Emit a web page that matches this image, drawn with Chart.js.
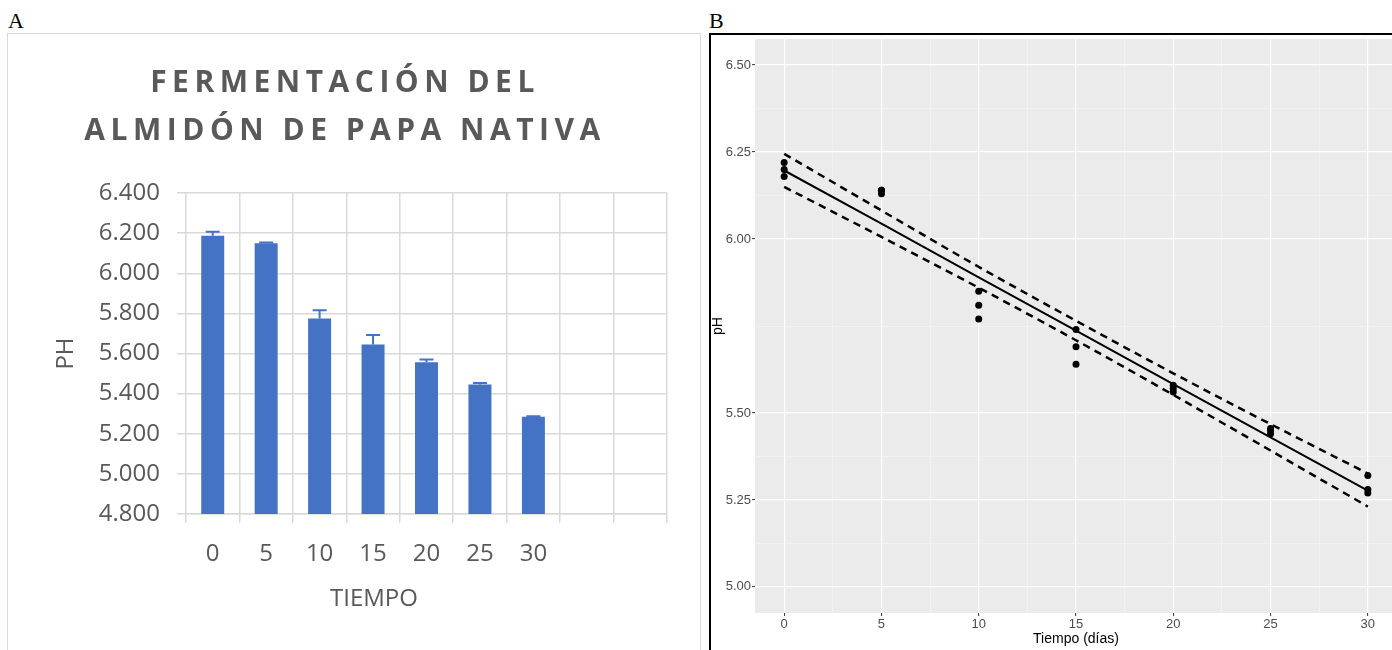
<!DOCTYPE html>
<html>
<head>
<meta charset="utf-8">
<script src="https://cdn.jsdelivr.net/npm/chart.js"></script>
<style>
  body { margin: 0; background: #fff; overflow: hidden; width: 1392px; height: 650px; position: relative; }
  .lab { position: absolute; font-family: "Liberation Serif", serif; font-size: 22px; line-height: 1; color: #000; }
  #labA { left: 8px; top: 10px; }
  #labB { left: 709px; top: 10px; }
  #panelA { position: absolute; left: 7px; top: 33px; width: 692px; height: 640px; border: 1px solid #d9d9d9; }
  #panelB { position: absolute; left: 709px; top: 33px; width: 700px; height: 640px; border: 2px solid #000; }
  canvas { position: absolute; left: 0; top: 0; }
</style>
</head>
<body>
  <div id="labA" class="lab">A</div>
  <div id="panelA"><canvas id="chartA" width="692" height="616"></canvas></div>
  <div id="labB" class="lab">B</div>
  <div id="panelB"><canvas id="chartB" width="700" height="615"></canvas></div>

  <script>
    // Panel A: barras (media +/- error)
    const diasA = ['0', '5', '10', '15', '20', '25', '30', '', ''];
    const phMedio = [6.187, 6.150, 5.775, 5.645, 5.557, 5.445, 5.285];
    const phError = [0.020, 0.003, 0.040, 0.047, 0.013, 0.008, 0.002];
    const tituloA = ['FERMENTACIÓN DEL', 'ALMIDÓN DE PAPA NATIVA'];
    const ejeXA = 'TIEMPO';

    // Panel B: observaciones + recta de ajuste y banda
    const diasObs = [0, 0, 0, 5, 5, 5, 10, 10, 10, 15, 15, 15, 20, 20, 20, 25, 25, 25, 30, 30, 30];
    const phObs = [6.22, 6.20, 6.18, 6.14, 6.14, 6.13, 5.85, 5.81, 5.77, 5.74, 5.69, 5.64,
                   5.58, 5.57, 5.56, 5.455, 5.45, 5.44, 5.32, 5.28, 5.27];
    const diasAjuste = [0, 5, 10, 15, 20, 25, 30];
    const phAjuste = [6.197, 6.044, 5.890, 5.737, 5.583, 5.430, 5.277];
    const phSup = [6.245, 6.082, 5.920, 5.765, 5.614, 5.468, 5.326];
    const phInf = [6.150, 6.006, 5.860, 5.709, 5.552, 5.392, 5.231];
    const yMayoresB = [5.00, 5.25, 5.50, 6.00, 6.25, 6.50];
    const yMenoresB = [5.125, 5.375, 5.75, 6.125, 6.375];
    const xMayoresB = [0, 5, 10, 15, 20, 25, 30];
    const xMenoresB = [2.5, 7.5, 12.5, 17.5, 22.5, 27.5];

    const grisExcel = '#595959';
    const fuenteA = { family: 'Open Sans', size: 24 };

    const barrasError = {
      id: 'barrasError',
      afterDatasetsDraw(chart) {
        const ctx = chart.ctx;
        const y = chart.scales.y;
        const meta = chart.getDatasetMeta(0);
        ctx.save();
        ctx.strokeStyle = '#4472C4';
        ctx.lineWidth = 2;
        meta.data.forEach((bar, i) => {
          const top = y.getPixelForValue(phMedio[i] + phError[i]);
          ctx.beginPath();
          ctx.moveTo(bar.x, bar.y);
          ctx.lineTo(bar.x, top);
          ctx.moveTo(bar.x - 7, top);
          ctx.lineTo(bar.x + 7, top);
          ctx.stroke();
        });
        ctx.restore();
      }
    };

    // titulo con espaciado y titulo del eje X (Excel lo centra bajo las categorias con datos)
    const textosA = {
      id: 'textosA',
      afterDraw(chart) {
        const ctx = chart.ctx;
        ctx.save();
        ctx.fillStyle = grisExcel;
        ctx.textAlign = 'center';
        ctx.font = 'bold 30px "Open Sans"';
        ctx.textBaseline = 'alphabetic';
        ctx.letterSpacing = '5.5px';
        tituloA.forEach((t, i) => ctx.fillText(t, 337, 58 + i * 48));
        ctx.letterSpacing = '0px';
        ctx.font = '24px "Open Sans"';
        ctx.textBaseline = 'middle';
        ctx.fillText(ejeXA, 366, 565);
        ctx.restore();
      }
    };

    new Chart(document.getElementById('chartA'), {
      type: 'bar',
      data: {
        labels: diasA,
        datasets: [{
          data: phMedio,
          backgroundColor: '#4472C4',
          categoryPercentage: 1,
          barPercentage: 0.43
        }]
      },
      options: {
        responsive: false,
        animation: false,
        layout: { padding: { top: 159, right: 33, left: 0, bottom: 0 } },
        plugins: { legend: { display: false }, tooltip: { enabled: false } },
        scales: {
          x: {
            grid: { color: '#d9d9d9', lineWidth: 1.5, tickLength: 9, offset: true },
            border: { color: '#d9d9d9', width: 1.5 },
            ticks: { color: grisExcel, font: fuenteA, padding: 17, maxRotation: 0, autoSkip: false },
            afterFit(s) { s.height = 136; s.paddingLeft = 0; s.paddingRight = 0; }
          },
          y: {
            min: 4.8,
            max: 6.4,
            ticks: { stepSize: 0.2, callback: v => v.toFixed(3), color: grisExcel, font: fuenteA, padding: 17 },
            grid: { color: '#d9d9d9', lineWidth: 1.5, tickLength: 9 },
            border: { display: false },
            title: { display: true, text: 'PH', color: grisExcel, font: fuenteA, padding: { top: 44, bottom: 0 } },
            afterFit(s) { s.width = 178; s.paddingTop = 0; s.paddingBottom = 0; }
          }
        }
      },
      plugins: [barrasError, textosA]
    });

    // ---- Panel B (estilo ggplot) ----
    const esMayorY = v => yMayoresB.some(m => Math.abs(m - v) < 1e-6);
    const esMayorX = v => xMayoresB.some(m => Math.abs(m - v) < 1e-6);
    const fuenteB = { family: 'Liberation Sans', size: 13 };
    const ordenar = (a, b) => a.concat(b).sort((p, q) => p - q).map(v => ({ value: v }));

    const fondoPanel = {
      id: 'fondoPanel',
      beforeDraw(chart) {
        const a = chart.chartArea;
        chart.ctx.save();
        chart.ctx.fillStyle = '#EBEBEB';
        chart.ctx.fillRect(a.left, a.top, a.right - a.left, a.bottom - a.top);
        chart.ctx.restore();
      }
    };

    const puntos = (xs, ys) => xs.map((x, i) => ({ x: x, y: ys[i] }));

    new Chart(document.getElementById('chartB'), {
      type: 'scatter',
      data: {
        datasets: [
          { data: puntos(diasObs, phObs), backgroundColor: '#000', pointRadius: 3.5, borderWidth: 0 },
          { type: 'line', data: puntos(diasAjuste, phAjuste), borderColor: '#000', borderWidth: 2,
            pointRadius: 0, showLine: true, fill: false },
          { type: 'line', data: puntos(diasAjuste, phSup), borderColor: '#000', borderWidth: 2.5,
            borderDash: [7.5, 5.5], pointRadius: 0, showLine: true, fill: false, cubicInterpolationMode: 'monotone' },
          { type: 'line', data: puntos(diasAjuste, phInf), borderColor: '#000', borderWidth: 2.5,
            borderDash: [7.5, 5.5], pointRadius: 0, showLine: true, fill: false, cubicInterpolationMode: 'monotone' }
        ]
      },
      options: {
        responsive: false,
        animation: false,
        layout: { padding: { top: 3, right: 14, left: 0, bottom: 0 } },
        plugins: { legend: { display: false }, tooltip: { enabled: false } },
        scales: {
          x: {
            type: 'linear',
            min: -1.5,
            max: 31.5,
            afterBuildTicks(s) { s.ticks = ordenar(xMayoresB, xMenoresB); },
            ticks: {
              autoSkip: false, maxRotation: 0, padding: 1,
              color: '#4D4D4D', font: fuenteB,
              callback: v => esMayorX(v) ? String(v) : ''
            },
            grid: {
              color: c => esMayorX(c.tick.value) ? '#ffffff' : '#f6f6f6',
              lineWidth: c => esMayorX(c.tick.value) ? 1.2 : 0.6,
              tickLength: 3,
              tickColor: c => esMayorX(c.tick.value) ? '#333333' : 'rgba(0,0,0,0)',
              tickWidth: 1
            },
            border: { display: false },
            title: { display: true, text: 'Tiempo (días)', color: '#000',
                     font: { family: 'Liberation Sans', size: 14 }, padding: { top: 0, bottom: 2 } },
            afterFit(s) { s.height = 37; s.paddingLeft = 0; s.paddingRight = 0; }
          },
          y: {
            min: 4.925,
            max: 6.575,
            afterBuildTicks(s) { s.ticks = ordenar(yMayoresB, yMenoresB); },
            ticks: {
              autoSkip: false, padding: 1,
              color: '#4D4D4D', font: fuenteB,
              callback: v => esMayorY(v) ? v.toFixed(2) : ''
            },
            grid: {
              color: c => esMayorY(c.tick.value) ? '#ffffff' : '#f6f6f6',
              lineWidth: c => esMayorY(c.tick.value) ? 1.2 : 0.6,
              tickLength: 3,
              tickColor: c => esMayorY(c.tick.value) ? '#333333' : 'rgba(0,0,0,0)',
              tickWidth: 1
            },
            border: { display: false },
            title: { display: true, text: 'pH', color: '#000',
                     font: { family: 'Liberation Sans', size: 14, lineHeight: 1 }, padding: { top: 0, bottom: 0 } },
            afterFit(s) { s.width = 44; s.paddingTop = 0; s.paddingBottom = 0; }
          }
        }
      },
      plugins: [fondoPanel]
    });
  </script>
</body>
</html>
